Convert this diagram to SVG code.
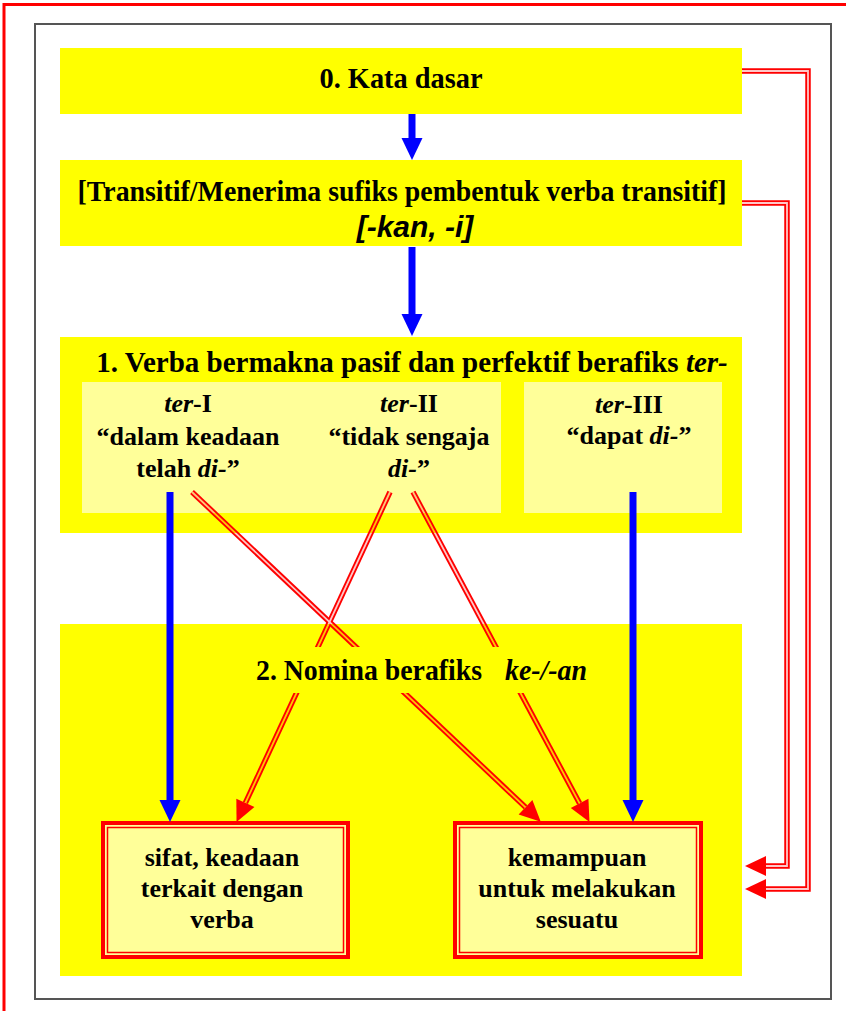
<svg xmlns="http://www.w3.org/2000/svg" width="846" height="1011" viewBox="0 0 846 1011">
<style>
.txt{font-family:"Liberation Serif","Times New Roman",serif;font-weight:bold;fill:#000;text-anchor:middle}
.t30{font-size:30px}
.t29{font-size:29px}
.t26{font-size:26px}
.it{font-style:italic}
.sans{font-family:"Liberation Sans",Arial,sans-serif;font-weight:bold;font-style:italic;font-size:30px;text-anchor:middle}
.ybox{fill:#ffff00}
.lbox{fill:#ffff99}
.blue{fill:none;stroke:#0000ff;stroke-width:7;marker-end:url(#bluehead)}
.red{fill:none;stroke:#ff0000;stroke-width:5.5;marker-end:url(#redhead)}
.frameOut{fill:#ffff99;stroke:#ff0000;stroke-width:4}
.frameIn{fill:none;stroke:#ff0000;stroke-width:1.5}
</style>
<defs>
<marker id="bluehead" markerUnits="userSpaceOnUse" markerWidth="22" markerHeight="21" refX="0" refY="10.5" orient="auto" overflow="visible">
<path d="M0,0 L22,10.5 L0,21 Z" fill="#0000ff"/>
</marker>
<marker id="redhead" markerUnits="userSpaceOnUse" markerWidth="21" markerHeight="20" refX="0" refY="10" orient="auto" overflow="visible">
<path d="M0,0 L21,10 L0,20 Z" fill="#ff0000"/>
</marker>
<mask id="hollow" maskUnits="userSpaceOnUse" x="0" y="0" width="846" height="1011">
<rect x="0" y="0" width="846" height="1011" fill="#fff"/>
<g fill="none" stroke="#383838" stroke-width="1.8">
<path d="M742,71 H808 V889 H766"/>
<path d="M742,203 H787 V866 H766"/>
<path d="M192,492 L525.5,807.3"/>
<path d="M390,492 L245.4,802.9"/>
<path d="M413,492 L579.6,803.4"/>
</g>
</mask>
</defs>

<rect x="0" y="0" width="846" height="1011" fill="#ffffff"/>
<path d="M4,1011 V4.5 H846" fill="none" stroke="#ff0000" stroke-width="3"/>
<rect x="35" y="24" width="796" height="975" fill="#ffffff" stroke="#555555" stroke-width="2"/>

<g id="node-kata-dasar">
<rect class="ybox" x="60" y="48" width="682" height="66"/>
<text class="txt t30" x="401" y="88" textLength="163" lengthAdjust="spacingAndGlyphs">0. Kata dasar</text>
</g>

<g id="node-transitif">
<rect class="ybox" x="60" y="160" width="682" height="86"/>
<text class="txt t30" x="402" y="201" textLength="649" lengthAdjust="spacingAndGlyphs">[Transitif/Menerima sufiks pembentuk verba transitif]</text>
<text class="sans" x="415" y="237">[-kan, -i]</text>
</g>

<g id="node-verba-ter">
<rect class="ybox" x="60" y="337" width="682" height="196"/>
<text class="txt t29" x="412" y="372">1. Verba bermakna pasif dan perfektif berafiks <tspan class="it">ter-</tspan></text>
</g>

<g id="node-ter-I-II">
<rect class="lbox" x="82" y="382" width="419" height="131"/>
<text class="txt t26" x="188" y="412"><tspan class="it">ter</tspan>-I</text>
<text class="txt t26" x="188" y="445">“dalam keadaan</text>
<text class="txt t26" x="188" y="477">telah <tspan class="it">di-</tspan>”</text>
<text class="txt t26" x="409" y="412"><tspan class="it">ter</tspan>-II</text>
<text class="txt t26" x="409" y="445">“tidak sengaja</text>
<text class="txt t26" x="409" y="477"><tspan class="it">di-</tspan>”</text>
</g>

<g id="node-ter-III">
<rect class="lbox" x="524" y="382" width="198" height="131"/>
<text class="txt t26" x="629" y="413"><tspan class="it">ter</tspan>-III</text>
<text class="txt t26" x="629" y="444">“dapat <tspan class="it">di-</tspan>”</text>
</g>

<g id="node-nomina">
<rect class="ybox" x="60" y="624" width="682" height="352"/>
</g>

<g id="node-sifat">
<rect class="frameOut" x="103" y="823" width="245" height="134"/>
<rect class="frameIn" x="107.5" y="827.5" width="236" height="125"/>
<text class="txt t26" x="222" y="866">sifat, keadaan</text>
<text class="txt t26" x="222" y="897">terkait dengan</text>
<text class="txt t26" x="222" y="928">verba</text>
</g>

<g id="node-kemampuan">
<rect class="frameOut" x="455" y="823" width="246" height="134"/>
<rect class="frameIn" x="459.5" y="827.5" width="237" height="125"/>
<text class="txt t26" x="577" y="866">kemampuan</text>
<text class="txt t26" x="577" y="897">untuk melakukan</text>
<text class="txt t26" x="577" y="928">sesuatu</text>
</g>

<g id="connectors">
<path class="blue" d="M412,114 V138"/>
<path class="blue" d="M412,247 V314"/>
<path class="blue" d="M170,492 V800"/>
<path class="blue" d="M633,492 V800"/>
<g mask="url(#hollow)">
<path class="red" d="M742,71 H808 V889 H766"/>
<path class="red" d="M742,203 H787 V866 H766"/>
<path class="red" d="M192,492 L525.5,807.3"/>
<path class="red" d="M390,492 L245.4,802.9"/>
<path class="red" d="M413,492 L579.6,803.4"/>
</g>
</g>

<g id="node-nomina-label">
<rect class="ybox" x="248" y="647" width="350" height="46"/>
<text class="txt t30" x="256" y="680" style="text-anchor:start" textLength="226" lengthAdjust="spacingAndGlyphs">2. Nomina berafiks</text>
<text class="txt t30 it" x="505" y="680" style="text-anchor:start" textLength="82" lengthAdjust="spacingAndGlyphs">ke-/-an</text>
</g>
</svg>
